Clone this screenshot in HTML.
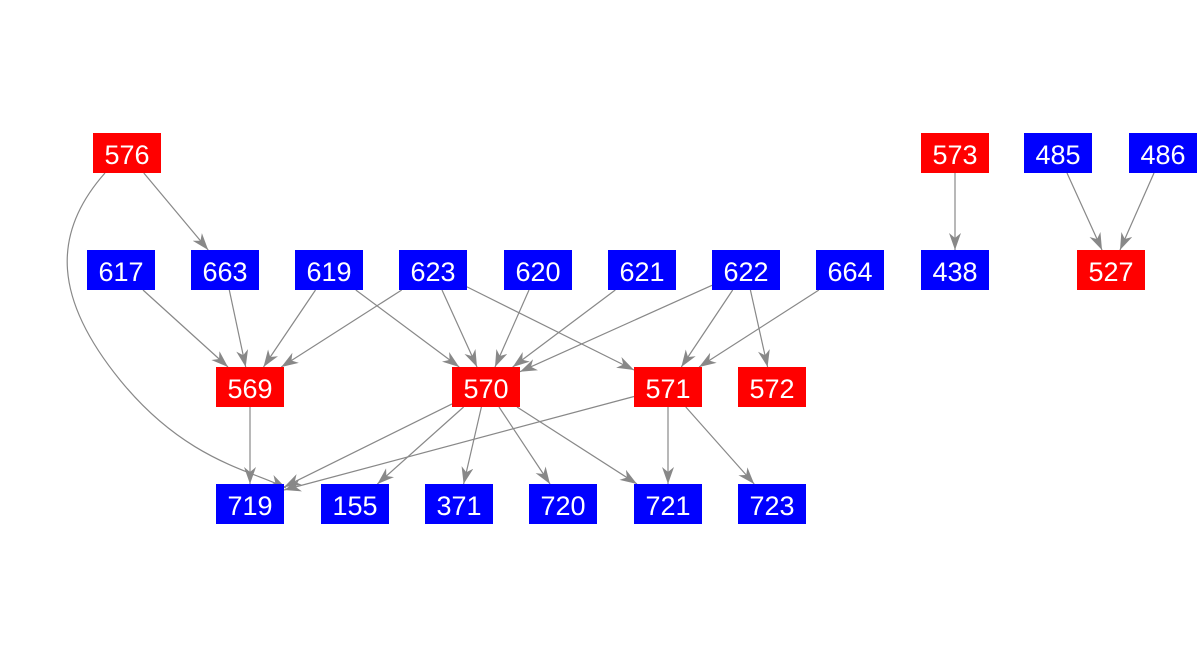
<!DOCTYPE html>
<html><head><meta charset="utf-8"><style>
html,body{margin:0;padding:0;background:#fff;}
svg{display:block;}
text{font-family:"Liberation Sans",Arial,sans-serif;font-size:27px;fill:#fff;text-anchor:middle;dominant-baseline:central;}
</style></head><body>
<svg width="1204" height="656" viewBox="0 0 1204 656" xmlns="http://www.w3.org/2000/svg">
<defs><marker id="a" markerUnits="userSpaceOnUse" markerWidth="20" markerHeight="14" refX="17" refY="6" orient="auto"><path d="M0,0 L17,6 L0,12 L5,6 z" fill="#888"/></marker></defs>
<g stroke="#888" stroke-width="1.2" fill="none" marker-end="url(#a)">
<line x1="143.8" y1="173" x2="208.2" y2="250"/>
<path d="M105,173 C50,235 55,300 120,380 S250,470 286,488"/>
<line x1="143" y1="290" x2="228" y2="367"/>
<line x1="229.3" y1="290" x2="245.7" y2="367"/>
<line x1="315.5" y1="290" x2="263.5" y2="367"/>
<line x1="401.7" y1="290" x2="281.3" y2="367"/>
<line x1="355.8" y1="290" x2="459.2" y2="367"/>
<line x1="442" y1="290" x2="477" y2="367"/>
<line x1="529" y1="290" x2="495" y2="367"/>
<line x1="615.3" y1="290" x2="512.7" y2="367"/>
<line x1="712" y1="285.3" x2="520" y2="371.7"/>
<line x1="467" y1="286.9" x2="634" y2="370"/>
<line x1="732.7" y1="290" x2="681.3" y2="367"/>
<line x1="818.9" y1="290" x2="699.1" y2="367"/>
<line x1="750.4" y1="290" x2="767.6" y2="367"/>
<line x1="955" y1="173" x2="955" y2="250"/>
<line x1="1067" y1="173" x2="1102" y2="250"/>
<line x1="1154" y1="173" x2="1120" y2="250"/>
<line x1="250" y1="407" x2="250" y2="484"/>
<line x1="452" y1="403.9" x2="284" y2="487.1"/>
<line x1="634" y1="396.5" x2="284" y2="490"/>
<line x1="463.6" y1="407" x2="377.4" y2="484"/>
<line x1="481.4" y1="407" x2="463.6" y2="484"/>
<line x1="499" y1="407" x2="550" y2="484"/>
<line x1="517" y1="407" x2="637" y2="484"/>
<line x1="668" y1="407" x2="668" y2="484"/>
<line x1="685.8" y1="407" x2="754.2" y2="484"/>
</g>
<g>
<rect x="93" y="133" width="68" height="40" fill="#f00"/><text x="127" y="155">576</text>
<rect x="921" y="133" width="68" height="40" fill="#f00"/><text x="955" y="155">573</text>
<rect x="1024" y="133" width="68" height="40" fill="#00f"/><text x="1058" y="155">485</text>
<rect x="1129" y="133" width="68" height="40" fill="#00f"/><text x="1163" y="155">486</text>

<rect x="87" y="250" width="68" height="40" fill="#00f"/><text x="121" y="272">617</text>
<rect x="191" y="250" width="68" height="40" fill="#00f"/><text x="225" y="272">663</text>
<rect x="295" y="250" width="68" height="40" fill="#00f"/><text x="329" y="272">619</text>
<rect x="399" y="250" width="68" height="40" fill="#00f"/><text x="433" y="272">623</text>
<rect x="504" y="250" width="68" height="40" fill="#00f"/><text x="538" y="272">620</text>
<rect x="608" y="250" width="68" height="40" fill="#00f"/><text x="642" y="272">621</text>
<rect x="712" y="250" width="68" height="40" fill="#00f"/><text x="746" y="272">622</text>
<rect x="816" y="250" width="68" height="40" fill="#00f"/><text x="850" y="272">664</text>
<rect x="921" y="250" width="68" height="40" fill="#00f"/><text x="955" y="272">438</text>
<rect x="1077" y="250" width="68" height="40" fill="#f00"/><text x="1111" y="272">527</text>

<rect x="216" y="367" width="68" height="40" fill="#f00"/><text x="250" y="389">569</text>
<rect x="452" y="367" width="68" height="40" fill="#f00"/><text x="486" y="389">570</text>
<rect x="634" y="367" width="68" height="40" fill="#f00"/><text x="668" y="389">571</text>
<rect x="738" y="367" width="68" height="40" fill="#f00"/><text x="772" y="389">572</text>

<rect x="216" y="484" width="68" height="40" fill="#00f"/><text x="250" y="506">719</text>
<rect x="321" y="484" width="68" height="40" fill="#00f"/><text x="355" y="506">155</text>
<rect x="425" y="484" width="68" height="40" fill="#00f"/><text x="459" y="506">371</text>
<rect x="529" y="484" width="68" height="40" fill="#00f"/><text x="563" y="506">720</text>
<rect x="634" y="484" width="68" height="40" fill="#00f"/><text x="668" y="506">721</text>
<rect x="738" y="484" width="68" height="40" fill="#00f"/><text x="772" y="506">723</text>
</g>
</svg>
</body></html>
